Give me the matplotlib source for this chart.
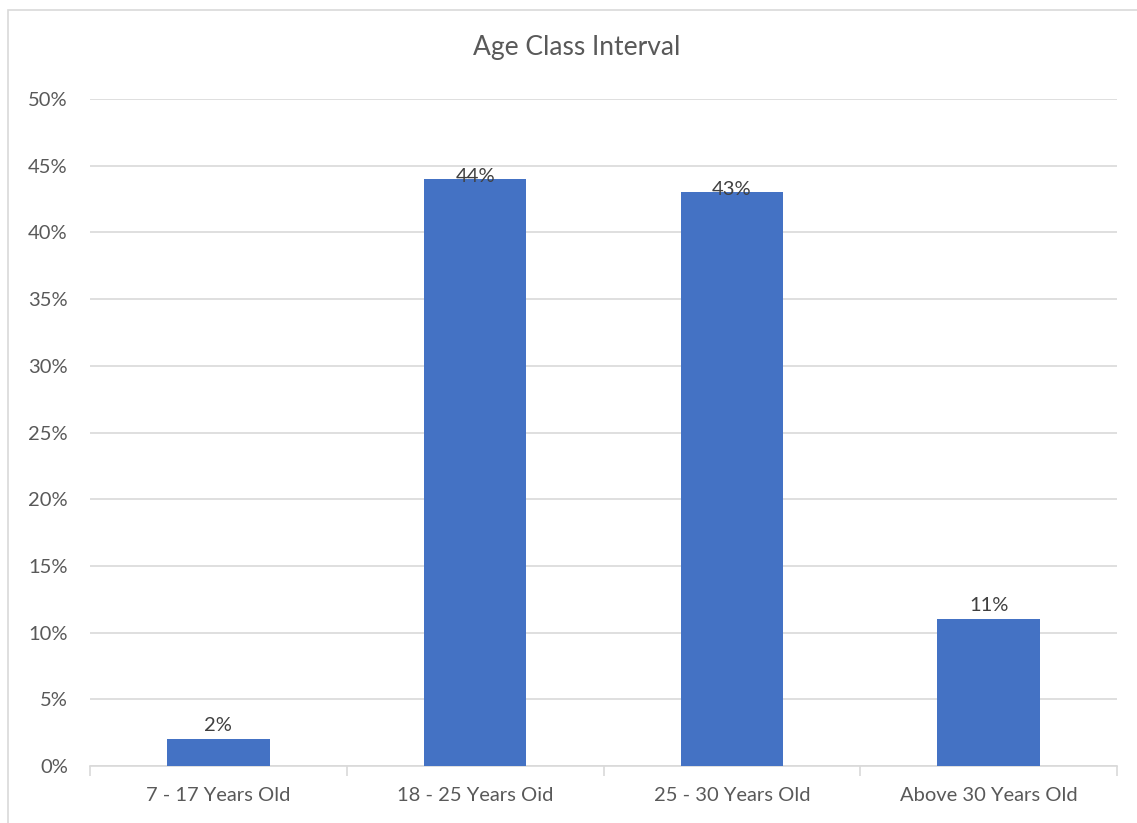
import matplotlib
matplotlib.use("Agg")
import matplotlib.pyplot as plt
from matplotlib.patches import Rectangle
from matplotlib.ticker import FuncFormatter

categories = ["7 - 17 Years Old", "18 - 25 Years Oid", "25 - 30 Years Old", "Above 30 Years Old"]
values = [2, 44, 43, 11]
labels = ["2%", "44%", "43%", "11%"]
label_offsets = [4, -4, -4, 4]  # pts; Excel overlapped the two tall ones

plt.rcParams['font.family'] = ['Lato', 'DejaVu Sans']

fig = plt.figure(figsize=(11.37, 8.23), dpi=100)
W, H = 1137, 823
# chart area border (cut off at right/bottom in the original)
fig.patches.append(Rectangle((8 / W, -0.1), 1.2, 1 - 10 / H + 0.1, transform=fig.transFigure,
                             fill=False, edgecolor='#D9D9D9', linewidth=1.2))

ax = fig.add_axes([90 / W, 57 / H, 1027 / W, 667 / H])
x = range(len(categories))
bars = ax.bar(x, values, width=0.4, color='#4472C4', zorder=3)

for b, lab, off in zip(bars, labels, label_offsets):
    ax.annotate(lab, (b.get_x() + b.get_width() / 2, b.get_height()),
                xytext=(0, off), textcoords='offset points',
                ha='center', va='bottom', fontsize=14.5, color='#404040', zorder=4)

ax.set_xlim(-0.5, 3.5)
ax.set_ylim(0, 50)
ax.set_yticks(range(0, 51, 5))
ax.yaxis.set_major_formatter(FuncFormatter(lambda v, p: f"{int(v)}%"))
ax.yaxis.grid(True, color='#D9D9D9', linewidth=1.2, zorder=0)
ax.set_xticks(list(x))
ax.set_xticklabels(categories)
ax.set_xticks([-0.5, 0.5, 1.5, 2.5, 3.5], minor=True)
ax.tick_params(axis='x', which='major', length=0, pad=15, labelsize=14.5, labelcolor='#595959')
ax.tick_params(axis='x', which='minor', length=7, color='#D9D9D9', width=1.2)
ax.tick_params(axis='y', length=0, pad=16, labelsize=14.5, labelcolor='#595959')
for s in ['top', 'right', 'left']:
    ax.spines[s].set_visible(False)
ax.spines['bottom'].set_color('#D9D9D9')
ax.spines['bottom'].set_linewidth(1.2)

fig.text(577 / W, 1 - 47 / H, "Age Class Interval", ha='center', va='center',
         fontsize=19, color='#595959')

fig.savefig("out.png", dpi=100)
